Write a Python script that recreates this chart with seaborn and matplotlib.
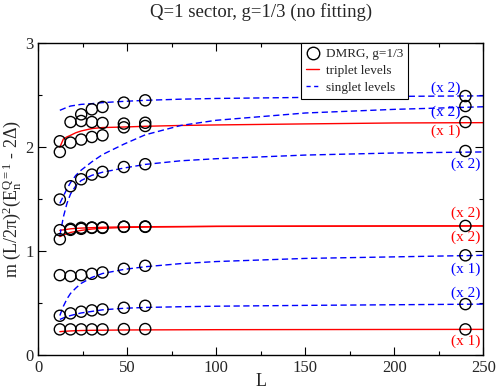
import numpy as np
import pandas as pd
import matplotlib
matplotlib.use("Agg")
import matplotlib.pyplot as plt
from matplotlib.lines import Line2D
from matplotlib.ticker import MultipleLocator
import seaborn as sns

sns.set_theme(style="ticks")
plt.rcParams['font.family'] = ['Liberation Serif', 'DejaVu Serif']
plt.rcParams['mathtext.fontset'] = 'custom'
plt.rcParams['mathtext.rm'] = 'Liberation Serif'
plt.rcParams['mathtext.it'] = 'Liberation Serif:italic'

# ---------------- data ----------------
dmrg_L = [12, 18, 24, 30, 36, 48, 60]
dmrg_b1 = [0.247, 0.247, 0.247, 0.247, 0.247, 0.250, 0.250]
dmrg_b2 = [0.378, 0.401, 0.417, 0.430, 0.439, 0.455, 0.474]
dmrg_b3 = [0.769, 0.760, 0.769, 0.782, 0.795, 0.830, 0.859]
dmrg_b4 = [1.115, 1.205, 1.215, 1.224, 1.224, 1.234, 1.234]
dmrg_b5 = [1.202, 1.215, 1.225, 1.228, 1.228, 1.236, 1.238]
dmrg_b6 = [1.497, 1.625, 1.692, 1.737, 1.763, 1.810, 1.837]
dmrg_b7 = [1.955, 2.045, 2.074, 2.099, 2.115, 2.192, 2.205]
dmrg_b8 = [2.058, 2.243, 2.253, 2.243, 2.234, 2.228, 2.236]
dmrg_b9 = [np.nan, np.nan, 2.317, 2.365, 2.388, 2.430, 2.452]
dmrg_L240 = 240
dmrg_E240 = [0.247, 0.490, 0.960, 1.243, 1.964, 2.243, 2.397, 2.493]

line_L = [12, 14, 16, 18, 21, 24, 30, 36, 48, 60, 80, 100, 150, 200, 250]
triplet_1 = [0.225, 0.228, 0.230, 0.232, 0.234, 0.236, 0.238, 0.239, 0.241, 0.242, 0.243, 0.244, 0.245, 0.246, 0.247]
triplet_2a = [1.200, 1.205, 1.210, 1.215, 1.219, 1.222, 1.226, 1.230, 1.233, 1.235, 1.237, 1.239, 1.241, 1.242, 1.243]
triplet_2b = [1.140, 1.155, 1.168, 1.180, 1.190, 1.200, 1.213, 1.220, 1.228, 1.232, 1.235, 1.238, 1.240, 1.242, 1.243]
triplet_3 = [2.000, 2.080, 2.100, 2.115, 2.140, 2.157, 2.180, 2.190, 2.195, 2.202, 2.210, 2.215, 2.225, 2.234, 2.237]
singlet_1 = [0.343, 0.357, 0.370, 0.380, 0.393, 0.405, 0.420, 0.435, 0.450, 0.458, 0.465, 0.470, 0.478, 0.484, 0.490]
singlet_2 = [0.380, 0.470, 0.540, 0.593, 0.645, 0.690, 0.747, 0.785, 0.824, 0.850, 0.880, 0.900, 0.930, 0.945, 0.960]
singlet_3 = [1.150, 1.330, 1.460, 1.550, 1.630, 1.680, 1.730, 1.760, 1.800, 1.835, 1.870, 1.890, 1.925, 1.945, 1.955]
singlet_4 = [1.460, 1.530, 1.600, 1.660, 1.730, 1.780, 1.860, 1.930, 2.030, 2.120, 2.210, 2.260, 2.330, 2.365, 2.390]
singlet_5 = [2.356, 2.370, 2.385, 2.397, 2.405, 2.413, 2.420, 2.430, 2.442, 2.452, 2.463, 2.470, 2.480, 2.490, 2.495]

deg_labels = ["(x 2)", "(x 2)", "(x 1)", "(x 2)", "(x 2)", "(x 2)", "(x 1)", "(x 2)", "(x 1)"]
deg_colors = ["blue", "blue", "red", "blue", "red", "red", "blue", "blue", "red"]
deg_x = [229, 229, 229, 240, 240, 240, 240, 240, 240]
deg_y = [2.564, 2.334, 2.154, 1.837, 1.368, 1.132, 0.827, 0.593, 0.128]

# ---------------- figure ----------------
fig = plt.figure(figsize=(4.98, 3.91), dpi=100)
ax = fig.add_axes([0.0773, 0.092, 0.893, 0.797])

dash = (0, (4.5, 2.5))
for ys in [triplet_1, triplet_2a, triplet_2b, triplet_3]:
    sns.lineplot(x=line_L, y=ys, color="red", lw=1.0, ax=ax, sort=False)
for ys in [singlet_1, singlet_2, singlet_3, singlet_4, singlet_5]:
    sns.lineplot(x=line_L, y=ys, color="blue", lw=1.0, linestyle=dash, ax=ax, sort=False)

rows = []
for b in [dmrg_b1, dmrg_b2, dmrg_b3, dmrg_b4, dmrg_b5, dmrg_b6, dmrg_b7, dmrg_b8, dmrg_b9]:
    for L, e in zip(dmrg_L, b):
        if not np.isnan(e):
            rows.append((L, e))
for e in dmrg_E240:
    rows.append((dmrg_L240, e))
df = pd.DataFrame(rows, columns=["L", "E"])
sns.scatterplot(data=df, x="L", y="E", marker="o", s=64, facecolors="none",
                edgecolors="black", linewidths=1.0, ax=ax, zorder=5)

for t, c, x, y in zip(deg_labels, deg_colors, deg_x, deg_y):
    ax.text(x, y, t, color=c, fontsize=11, ha="center", va="center")

ax.set_xlim(0, 250)
ax.set_ylim(0, 3)
ax.xaxis.set_major_locator(MultipleLocator(50))
ax.xaxis.set_minor_locator(MultipleLocator(25))
ax.yaxis.set_major_locator(MultipleLocator(1))
ax.yaxis.set_minor_locator(MultipleLocator(0.5))
ax.tick_params(which="both", direction="in", top=True, right=True, labelsize=12, color="black")
ax.tick_params(which="major", length=6, width=0.8)
ax.tick_params(which="minor", length=3, width=0.8)
for s in ax.spines.values():
    s.set_color("black")
    s.set_linewidth(1.0)

ax.set_xlabel("L", fontsize=13, labelpad=-2)
ax.set_ylabel(r"m (L/2π)$^{\mathrm{2}}$(E$_{\mathrm{n}}^{\mathrm{Q=1}}$ - 2Δ)", fontsize=13, labelpad=1)
fig.text(0.524, 0.97, "Q=1 sector, g=1/3 (no fitting)", fontsize=13.5, ha="center", va="center")

handles = [
    Line2D([], [], marker="o", ls="none", mfc="none", mec="black", ms=9, mew=1.0),
    Line2D([], [], color="red", lw=1.0),
    Line2D([], [], color="blue", lw=1.0, ls=(0, (3, 2.5))),
]
leg = ax.legend(handles, ["DMRG, g=1/3", "triplet levels", "singlet levels"],
                loc="upper right", bbox_to_anchor=(0.83, 1.0), fontsize=9.5,
                frameon=True, fancybox=False, edgecolor="black", framealpha=1,
                handlelength=1.0, borderpad=0.35, labelspacing=0.35, handletextpad=0.5,
                borderaxespad=0)
leg.get_frame().set_linewidth(0.8)

fig.savefig("out.png", dpi=100)
